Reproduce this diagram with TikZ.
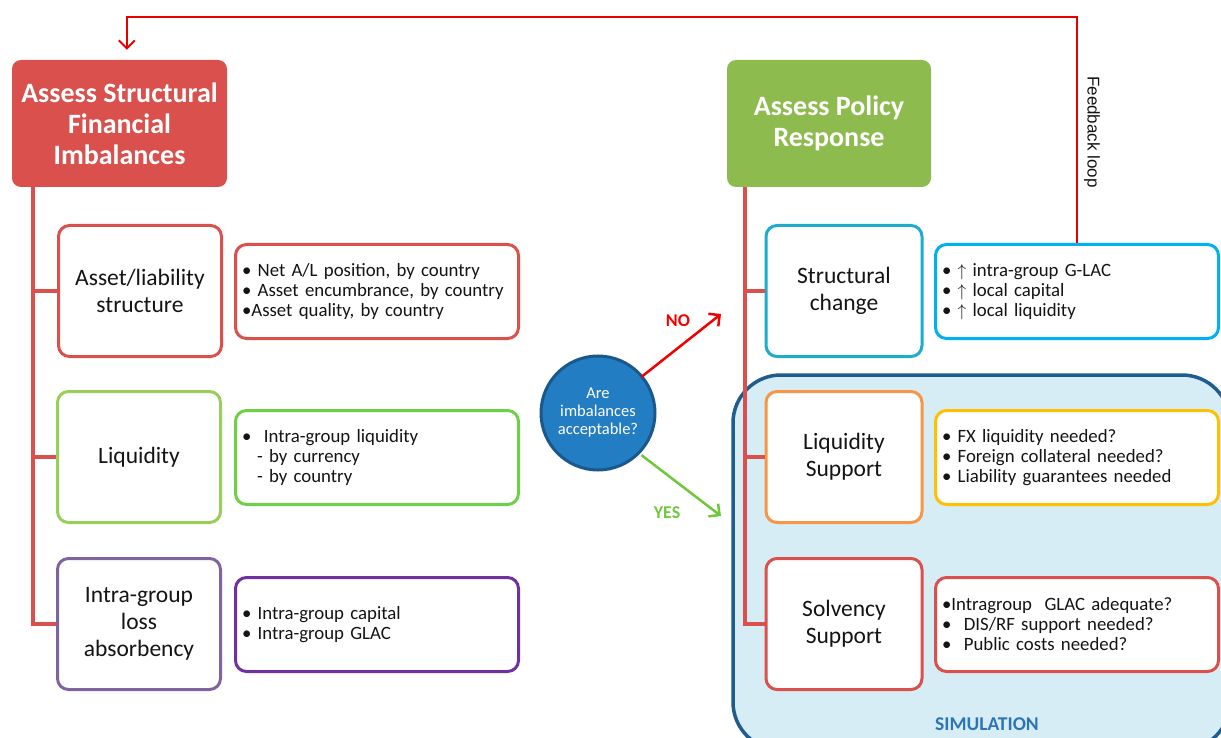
\documentclass[tikz,border=0pt]{standalone}
\usepackage{fontspec}
\setmainfont{Carlito}
\newfontfamily\arialfont{Liberation Sans}
\usetikzlibrary{arrows.meta}
\definecolor{tred}{RGB}{217,80,77}
\definecolor{tgreen}{RGB}{141,187,77}
\definecolor{lgreen}{RGB}{155,205,90}
\definecolor{dgreen}{RGB}{110,208,70}
\definecolor{lpurple}{RGB}{128,100,162}
\definecolor{dpurple}{RGB}{112,48,160}
\definecolor{lcyan}{RGB}{30,172,205}
\definecolor{dcyan}{RGB}{0,176,240}
\definecolor{lorange}{RGB}{247,150,70}
\definecolor{dyellow}{RGB}{255,192,0}
\definecolor{simfill}{RGB}{214,237,245}
\definecolor{simdraw}{RGB}{31,93,142}
\definecolor{circfill}{RGB}{35,125,195}
\definecolor{circdraw}{RGB}{26,88,140}
\definecolor{simtext}{RGB}{46,117,182}
\definecolor{fbred}{RGB}{230,0,0}
\definecolor{nored}{RGB}{240,0,0}
\definecolor{yesgreen}{RGB}{110,200,60}
\definecolor{txt}{RGB}{20,20,20}
\begin{document}
\begin{tikzpicture}[x=1pt,y=-1pt,
  titlebox/.style={rounded corners=9pt, minimum width=215pt, minimum height=127pt, text=white, align=center,
    font=\fontsize{28}{31}\selectfont\bfseries, inner sep=0pt},
  catbox/.style={draw, line width=3pt, rounded corners=11pt, fill=white, minimum width=163pt, minimum height=131pt,
    align=center, text=txt, font=\fontsize{23.5}{27}\selectfont, inner sep=0pt},
  detbox/.style={draw, line width=3pt, rounded corners=11pt, fill=white, minimum width=283pt, minimum height=94pt,
    align=left, text width=270pt, text=txt, font=\fontsize{18.8}{20}\selectfont, inner sep=0pt},
  tree/.style={line width=3.5pt, tred},
  arr/.style={line width=2.5pt, -{Straight Barb[length=8pt,width=16pt,line width=2.5pt]}},
  lab/.style={font=\fontsize{18}{20}\selectfont\bfseries}
]
\useasboundingbox (0,0) rectangle (1221,738);
\clip (0,0) rectangle (1221,738);

% simulation region
\draw[line width=3.5pt, draw=simdraw, fill=simfill, rounded corners=48pt] (733,375) rectangle (1230,750);
\node[font=\fontsize{19.5}{22}\selectfont\bfseries, text=simtext] (simlab) at (987,724) {SIMULATION};

% title boxes
\node[titlebox, fill=tred] (t1) at (119.5,123.5) {Assess Structural\\Financial\\Imbalances};
\node[titlebox, fill=tgreen, minimum width=204pt] (t2) at (829,123.5) {Assess Policy\\Response};

% category boxes left
\node[catbox, draw=tred] (a1) at (140,291) {Asset/liability\\structure};
\node[catbox, draw=lgreen] (a2) at (139,457) {Liquidity};
\node[catbox, draw=lpurple] (a3) at (139,624) {Intra-group\\loss\\absorbency};

% detail boxes left
\node[detbox, draw=tred] (d1) at (377,291.5) {\textbullet\ Net A/L position, by country\\\textbullet\ Asset encumbrance, by country\\\textbullet Asset quality, by country};
\node[detbox, draw=dgreen] (d2) at (377,457.5) {\textbullet\ \ Intra-group liquidity\\\hspace{15pt}- by currency\\\hspace{15pt}- by country};
\node[detbox, draw=dpurple] (d3) at (377,624.5) {\textbullet\ Intra-group capital\\\textbullet\ Intra-group GLAC};

% category boxes right
\node[catbox, draw=lcyan, minimum width=156pt] (b1) at (844,291) {Structural\\change};
\node[catbox, draw=lorange, minimum width=156pt] (b2) at (844,457) {Liquidity\\Support};
\node[catbox, draw=tred, minimum width=156pt] (b3) at (844,624) {Solvency\\Support};

% detail boxes right
\node[detbox, draw=dcyan] (e1) at (1077,291.5) {\textbullet\ $\uparrow$ intra-group G-LAC\\\textbullet\ $\uparrow$ local capital\\\textbullet\ $\uparrow$ local liquidity};
\node[detbox, draw=dyellow] (e2) at (1077,457.5) {\textbullet\ FX liquidity needed?\\\textbullet\ Foreign collateral needed?\\\textbullet\ Liability guarantees needed};
\node[detbox, draw=tred] (e3) at (1077,624.5) {\textbullet Intragroup\ \ GLAC adequate?\\\textbullet\ \ DIS/RF support needed?\\\textbullet\ \ Public costs needed?};

% trees
\draw[tree] ([xshift=21pt]t1.south west) |- (a3.west);
\draw[tree] ([xshift=21pt]t1.south west |- a1.west) -- (a1.west);
\draw[tree] ([xshift=21pt]t1.south west |- a2.west) -- (a2.west);
\draw[tree] ([xshift=18pt]t2.south west) |- (b3.west);
\draw[tree] ([xshift=18pt]t2.south west |- b1.west) -- (b1.west);
\draw[tree] ([xshift=18pt]t2.south west |- b2.west) -- (b2.west);

% decision circle
\node[circle, minimum size=114pt, fill=circfill, draw=circdraw, line width=3pt, text=white, align=center,
  font=\fontsize{16.5}{18}\selectfont, inner sep=0pt] (c) at (598,413) {Are\\imbalances\\acceptable?};
\coordinate (noend) at (721,314);
\coordinate (yesend) at (721,516);
\draw[arr, nored] ([yshift=-3pt]c.42) -- (noend);
\draw[arr, yesgreen] ([yshift=-3pt]c.-42) -- (yesend);
\node[lab, text=nored] (nolab) at (678,321) {NO};
\node[lab, text=yesgreen] (yeslab) at (667,513) {YES};

% feedback loop
\coordinate (fbtop) at (1077,17);
\draw[line width=2.5pt, fbred, -{Straight Barb[length=8pt,width=16pt,line width=2pt]}, shorten >=10pt]
  (e1.north) -- (fbtop) -| ([xshift=115pt]t1.north west);
\node[rotate=-90, font=\arialfont\fontsize{17}{20}\selectfont, text=txt] (fblab) at (1092,132) {Feedback loop};
\end{tikzpicture}
\end{document}
